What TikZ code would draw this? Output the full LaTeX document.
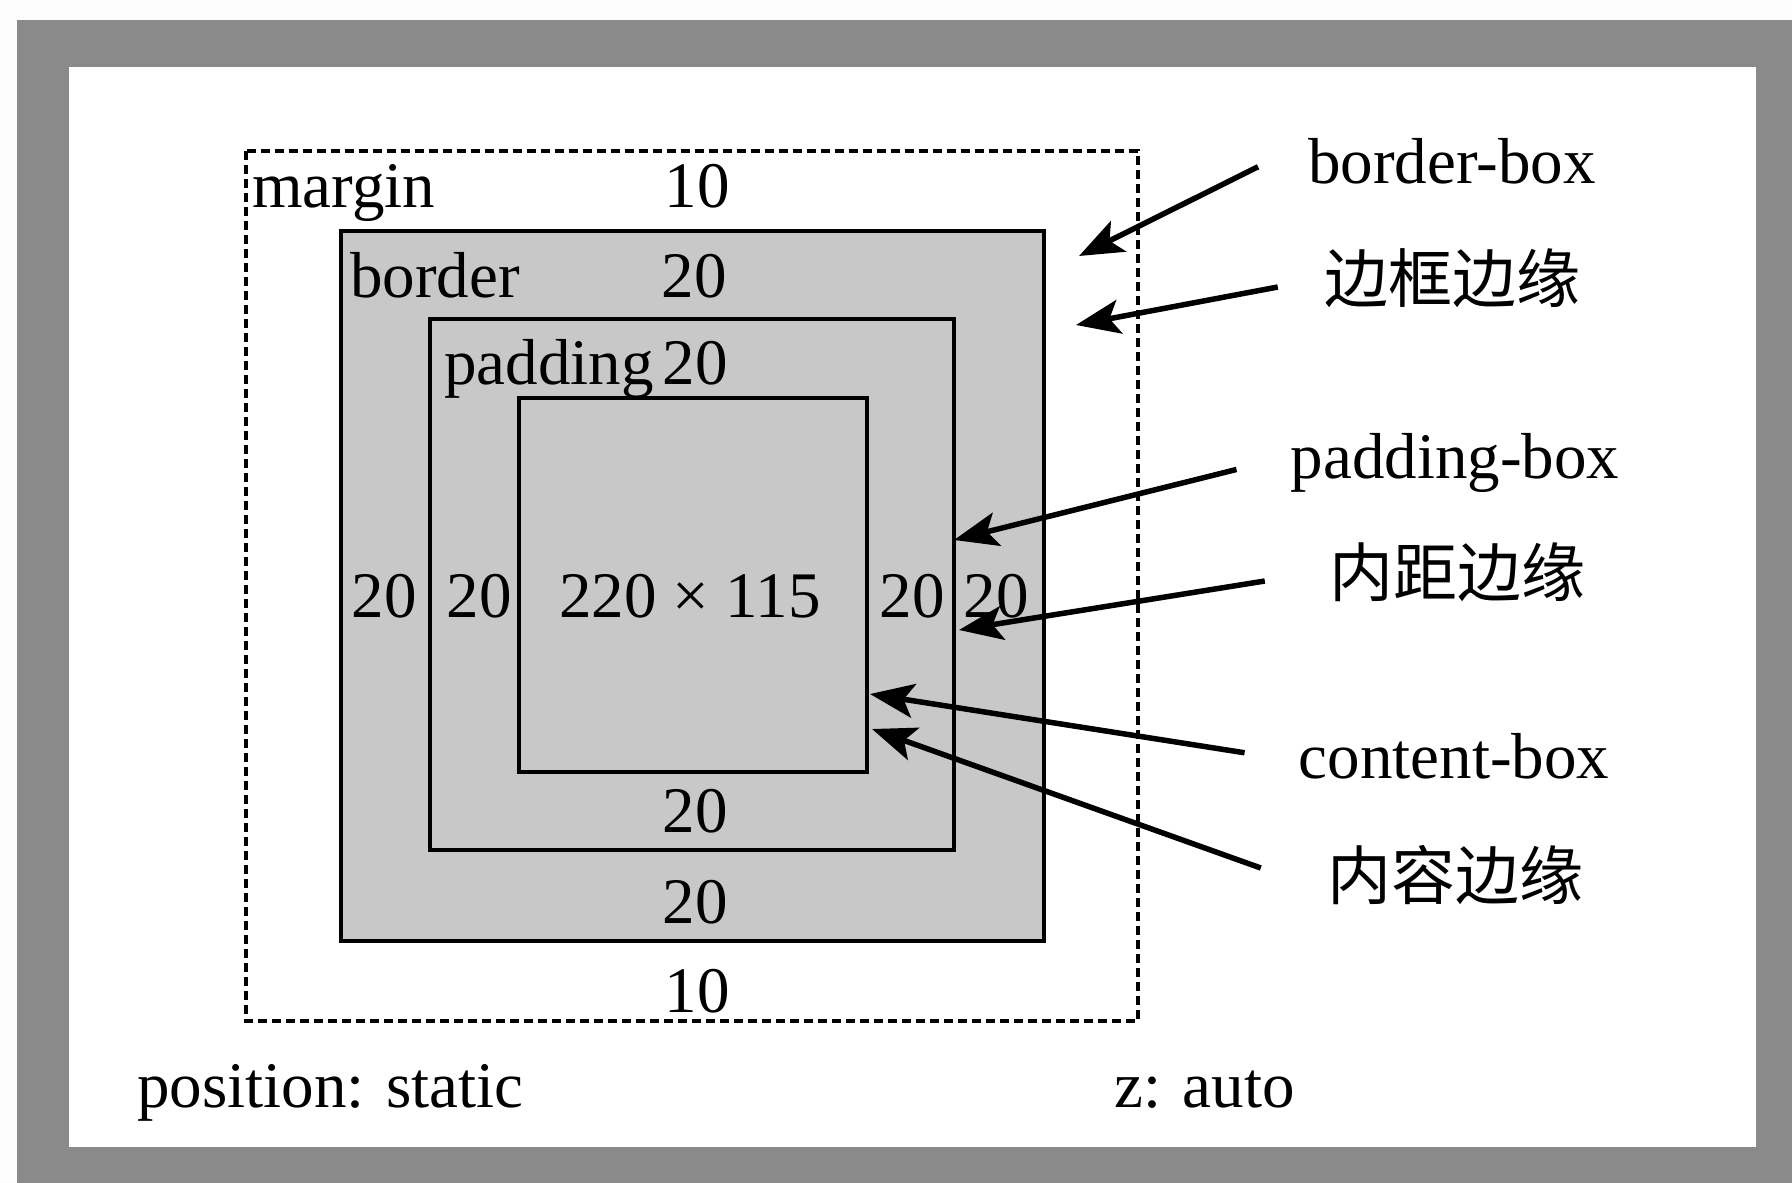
\documentclass[tikz,border=0pt]{standalone}
\usepackage{fontspec}
\setmainfont{Liberation Serif}
\newfontfamily\cjk{Noto Sans CJK SC}
\usetikzlibrary{arrows.meta}
\definecolor{framegray}{RGB}{138,138,138}
\definecolor{boxgray}{RGB}{200,200,200}
\definecolor{paper}{RGB}{252,252,252}
\tikzset{
  lbl/.style={font=\fontsize{65}{72}\selectfont, inner sep=0pt, anchor=base},
  cjklbl/.style={font=\cjk\fontsize{64}{72}\selectfont, inner sep=0pt},
  solidbox/.style={draw=black, line width=4.5pt, fill=boxgray},
  marginbox/.style={draw=black, line width=4pt, dash pattern=on 9pt off 5pt},
  ptr/.style={draw=black, line width=5.5pt, -{Stealth[length=44pt,width=34pt,inset=10pt]}}
}
\begin{document}
\begin{tikzpicture}[x=1pt,y=-1pt]
\useasboundingbox (0,0) rectangle (1792,1183);
\fill[paper] (0,0) rectangle (1792,1183);
\fill[framegray] (17,20) rectangle (1792,1183);
\fill[white] (69,67) rectangle (1756,1147);

% boxes
\draw[marginbox] (246,151) rectangle (1138,1021);
\draw[solidbox] (341,231) rectangle (1044,941);
\draw[solidbox] (430,319) rectangle (954,850);
\draw[solidbox] (519,398) rectangle (867,772);

% box labels
\node[lbl, anchor=base west] (mgn) at (252,207) {margin};
\node[lbl] (mt) at (697,207) {10};
\node[lbl, anchor=base west] (brd) at (350,297) {border};
\node[lbl] (bt) at (694,297) {20};
\node[lbl, anchor=base west] (pad) at (444,384) {padding};
\node[lbl] (pt) at (695,384) {20};
\node[lbl] (bl) at (384,617) {20};
\node[lbl] (pl) at (479,617) {20};
\node[lbl] (sz) at (690,617) {220 × 115};
\node[lbl] (pr) at (912,617) {20};
\node[lbl] (br) at (996,617) {20};
\node[lbl] (pbt) at (695,832) {20};
\node[lbl] (bbt) at (695,923) {20};
\node[lbl] (mb) at (697,1012) {10};
\node[lbl, anchor=base west] (pos) at (137,1107) {position: static};
\node[lbl, anchor=base west] (zi) at (1114,1107) {z: auto};

% right labels
\node[lbl] (bbox) at (1452,183) {border-box};
\node[cjklbl] (bkby) at (1452,278) {边框边缘};
\node[lbl] (pbox) at (1455,478) {padding-box};
\node[cjklbl] (njby) at (1457,572) {内距边缘};
\node[lbl] (cbox) at (1454,778) {content-box};
\node[cjklbl] (nrby) at (1455,875) {内容边缘};

% arrow targets
\coordinate (t1) at (1079,256);
\coordinate (t2) at (1076,325);
\coordinate (t3) at (954,540);
\coordinate (t4) at (959,630);
\coordinate (t5) at (870,694);
\coordinate (t6) at (872,729);

\draw[ptr] ([shift={(-50,6)}]bbox.west) -- (t1);
\draw[ptr] ([shift={(-46,9)}]bkby.west) -- (t2);
\draw[ptr] ([shift={(-54,7)}]pbox.west) -- (t3);
\draw[ptr] ([shift={(-64,9)}]njby.west) -- (t4);
\draw[ptr] ([shift={(-54,-3)}]cbox.west) -- (t5);
\draw[ptr] ([shift={(-66,-7)}]nrby.west) -- (t6);
\end{tikzpicture}
\end{document}
